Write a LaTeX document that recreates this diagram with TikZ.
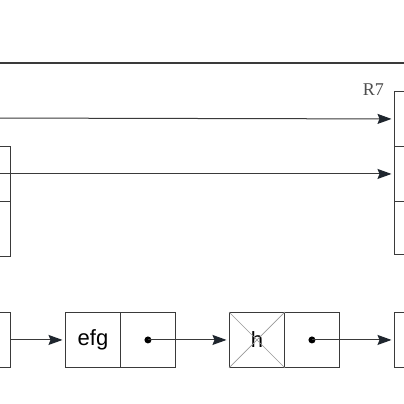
\documentclass[tikz,border=0pt]{standalone}
\usepackage{fontspec}
\newfontfamily\sansf{Liberation Sans}
\setmainfont{Liberation Serif}
\usetikzlibrary{arrows.meta}
\definecolor{ln}{HTML}{3A3A3A}
\definecolor{tip}{HTML}{1F262E}
\begin{document}
\begin{tikzpicture}[x=1pt,y=-1pt,
  cell/.style={draw=ln, line width=0.9pt, minimum width=55pt, minimum height=55pt, inner sep=0pt, anchor=north west, font=\sansf\fontsize{22}{24}\selectfont},
  link/.style={draw=ln, line width=1pt, shorten >=2.5pt, -{Stealth[length=14pt,width=10pt,inset=2pt,color=tip,fill=tip]}},
  dotc/.style={circle, fill=black, inner sep=0pt, minimum size=7pt}]
\useasboundingbox (0,0) rectangle (404,404);
\clip (0,0) rectangle (404,404);
\fill[white] (0,0) rectangle (404,404);
\coordinate (tl) at (0,63);
\coordinate (tr) at (404,63);
\draw[ln, line width=1.8pt] (tl) -- (tr);
% left upper box
\node[cell] (L1) at (-45,146) {};
\node[cell] (L2) at (-45,201) {};
% right box
\node[cell, minimum height=55pt] (R1) at (394,91) {};
\node[cell] (R2) at (394,146) {};
\node[cell, minimum height=53pt] (R3) at (394,201) {};
\node[anchor=south east, inner sep=0pt, text=ln!90, font=\fontsize{18}{20}\selectfont] (lab) at (384,96) {R7};
% arrows
\coordinate (a1) at (-20,118);
\draw[link] (a1) -- (R1.west);
\draw[link] (L1.center) -- (R2.west);
% bottom row
\node[cell] (B0) at (-45,312) {};
\node[cell] (E1) at (65,312) {efg};
\node[cell] (E2) at (120,312) {};
\node[cell] (H1) at (229,312) {h};
\node[cell] (H2) at (284,312) {};
\node[cell] (N1) at (394,312) {};
\draw[gray!80, line width=0.7pt] (H1.north west) -- (H1.south east) (H1.north east) -- (H1.south west);
\node[dotc] (d1) at (E2.center) {};
\node[dotc] (d2) at (H2.center) {};
\draw[link] (B0.east) -- (E1.west);
\draw[link] (d1.center) -- (H1.west);
\draw[link] (d2.center) -- (N1.west);
\end{tikzpicture}
\end{document}
